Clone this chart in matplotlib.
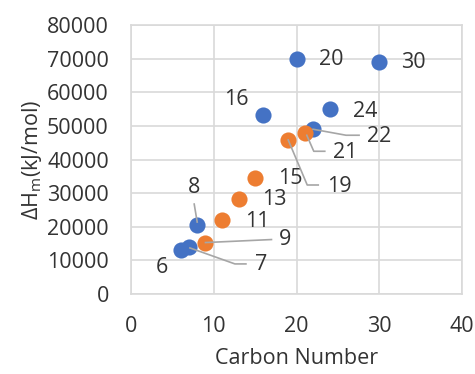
import matplotlib
matplotlib.use("Agg")
import matplotlib.pyplot as plt
from matplotlib.lines import Line2D
from matplotlib.transforms import IdentityTransform

plt.rcParams['font.family'] = ['Open Sans', 'DejaVu Sans']
plt.rcParams['mathtext.fontset'] = 'custom'
plt.rcParams['mathtext.rm'] = 'Open Sans'
plt.rcParams['mathtext.it'] = 'Open Sans'

# data
blue_c = [6, 7, 8, 16, 20, 22, 24, 30]
blue_h = [13000, 14000, 20500, 53300, 70000, 49000, 55000, 69000]
orange_c = [9, 11, 13, 15, 19, 21]
orange_h = [15300, 22000, 28300, 34500, 45800, 47800]

BLUE = '#4472C4'
ORANGE = '#ED7D31'
TXT = '#333333'
GRID = '#D9D9D9'
LEAD = '#A6A6A6'
FS = 15.5

# label placement in image pixels (dx, dy down), alignment, leader vertices
label_style = {
    6:  ((-19, 17), 'center', None),
    7:  ((66, 18), 'left', [(1, 1), (46, 17), (57, 17)]),
    8:  ((-3, -38), 'center', [(-3, -21), (0, -3)]),
    9:  ((73, -3), 'left', [(0, 0), (66, -3)]),
    11: ((23, 1), 'left', None),
    13: ((23, 1), 'left', None),
    15: ((23, 1), 'left', None),
    16: ((-27, -15), 'center', None),
    19: ((39, 47), 'left', [(0, 0), (19, 45), (30, 45)]),
    20: ((22, 1), 'left', None),
    21: ((28, 19), 'left', [(2, 2), (9, 18), (20, 18)]),
    22: ((54, 7), 'left', [(0, 0), (33, 6), (46, 6)]),
    24: ((23, 2), 'left', None),
    30: ((22, 1), 'left', None),
}

fig = plt.figure(figsize=(4.75, 3.74), dpi=100)
ax = fig.add_axes([131 / 475, 1 - 294 / 374, 331 / 475, 269 / 374])

ax.scatter(blue_c, blue_h, s=135, color=BLUE, zorder=3, linewidths=0)
ax.scatter(orange_c, orange_h, s=135, color=ORANGE, zorder=4, linewidths=0)

ax.set_xlim(0, 40)
ax.set_ylim(0, 80000)
ax.set_xticks(range(0, 41, 10))
ax.set_yticks(range(0, 80001, 10000))
ax.grid(True, color=GRID, linewidth=1.2)
ax.set_axisbelow(True)
for sp in ax.spines.values():
    sp.set_color(GRID)
    sp.set_linewidth(1.2)
ax.tick_params(length=0, labelsize=FS, labelcolor=TXT)
ax.tick_params(axis='y', pad=16)
ax.tick_params(axis='x', pad=16)

ax.set_xlabel('Carbon Number', fontsize=FS, color=TXT, labelpad=8)
ax.set_ylabel(r'ΔH$_\mathrm{m}$(kJ/mol)', fontsize=FS, color=TXT, labelpad=2)

fig.canvas.draw()
all_c = blue_c + orange_c
all_h = blue_h + orange_h
for c, h in zip(all_c, all_h):
    (dx, dy), ha, lead = label_style[c]
    ax.annotate(str(c), (c, h), xytext=(dx, -dy), textcoords='offset pixels',
                ha=ha, va='center', fontsize=FS, color=TXT, zorder=6)
    if lead:
        px, py = ax.transData.transform((c, h))
        xs = [px + p[0] for p in lead]
        ys = [py - p[1] for p in lead]
        fig.add_artist(Line2D(xs, ys, transform=IdentityTransform(),
                              color=LEAD, linewidth=1.2, zorder=5))

fig.savefig('out.png', dpi=100)
